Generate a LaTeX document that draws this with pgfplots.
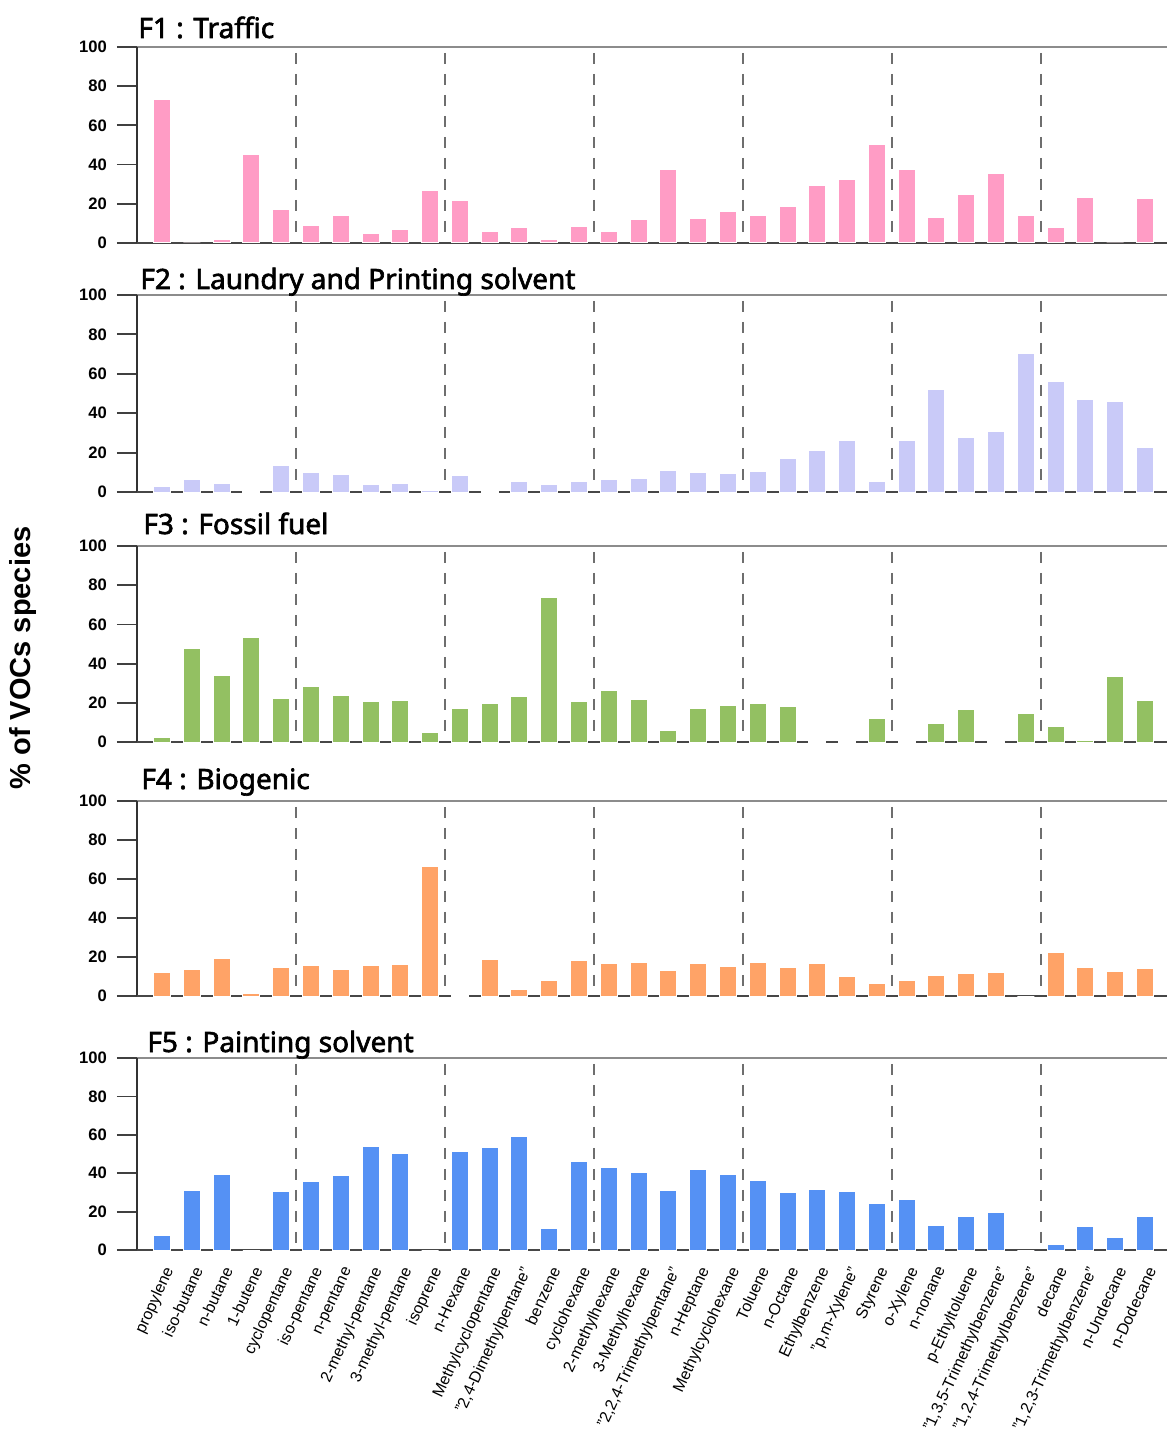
\documentclass[border=0pt]{standalone}
\usepackage{pgfplots}
\pgfplotsset{compat=1.18}
\usepackage{pgfplotstable}
\usepackage{fontspec}
\setmainfont{Liberation Sans}
\newfontfamily\titlefont{Noto Sans}[AutoFakeBold=2.2]

\definecolor{cTraffic}{HTML}{FF9CC5}
\definecolor{cLaundry}{HTML}{C9CAF8}
\definecolor{cFossil}{HTML}{93C062}
\definecolor{cBio}{HTML}{FFA367}
\definecolor{cPaint}{HTML}{5591F4}
\definecolor{sepgray}{HTML}{6E6E6E}

% Source profiles: share (%) of each VOC species attributed to factors F1-F5
\pgfplotstableread{
idx F1   F2   F3   F4   F5
0   73.4 2.7  2.1  12.0 7.7
1   0    6.6  47.9 13.4 30.8
2   1.9  4.2  34.0 19.4 39.3
3   44.9 0.3  53.2 1.4  0
4   17.3 13.6 22.2 14.8 30.3
5   8.8  9.8  28.5 15.8 35.7
6   14.1 8.8  23.6 13.4 39.0
7   4.7  3.9  20.5 15.6 53.9
8   6.8  4.2  21.2 16.1 50.3
9   26.6 0.8  5.1  66.2 0
10  21.9 8.5  17.3 0.3  51.3
11  6.1  0.5  19.8 18.7 53.6
12  8.0  5.1  23.4 3.3  59.0
13  1.9  3.6  73.7 8.2  11.0
14  8.5  5.1  20.9 18.2 45.9
15  6.1  6.1  26.4 16.8 43.1
16  11.9 7.1  21.6 17.3 40.3
17  37.3 10.8 6.1  13.2 30.8
18  12.4 9.7  17.2 16.9 42.1
19  15.9 9.5  18.4 15.0 39.5
20  14.2 10.2 19.9 17.3 36.2
21  18.6 16.9 18.2 14.5 29.9
22  29.2 21.2 0.3  16.6 31.5
23  32.4 25.9 0.3  9.9  30.3
24  50.2 5.3  11.9 6.5  24.3
25  37.6 25.9 0.3  8.2  26.4
26  13.2 52.0 9.4  10.6 12.7
27  24.9 27.6 16.7 11.6 17.7
28  35.4 30.7 0.3  12.1 19.8
29  14.2 70.2 14.3 0    0
30  8.1  56.3 7.8  22.1 3.1
31  23.4 46.9 0.9  14.7 12.3
32  0    45.8 33.6 12.8 6.3
33  22.9 22.4 21.3 14.2 17.7
}\profiles

\tikzset{
  zeroline/.style={black!72, line width=1.4pt},
  separator/.style={sepgray, line width=1pt, dash pattern=on 5.5pt off 5pt},
  paneltitle/.style={anchor=base west, inner sep=0pt, font=\titlefont\bfseries\fontsize{14}{16}\selectfont},
}

\pgfplotsset{
  vocpanel/.style={
    scale only axis,
    width=515pt,
    xmin=-0.84, xmax=33.74,
    ymin=0, ymax=100,
    ytick={0,20,40,60,80,100},
    xtick={0,...,33},
    xticklabels={},
    axis y line*=left,
    x axis line style={draw=black!45, line width=1pt},
    y axis line style={draw=black!80, line width=0.9pt},
    tick align=outside,
    major tick length=10pt,
    ytick style={draw=black!75, line width=0.9pt},
    xtick style={draw=none},
    /pgf/number format/assume math mode=true,
    yticklabel style={font=\fontsize{8.3}{9}\selectfont\bfseries, text=black, xshift=-1.5pt},
    clip=false,
  },
  vocbars/.style={ybar, bar width=8.5pt, draw=white, line width=0.5pt, fill=#1},
}

\newcommand{\panelextras}{%
  \draw[zeroline] (rel axis cs:0,0) -- (rel axis cs:1,0);
  \pgfplotsinvokeforeach{4.5,9.5,14.5,19.5,24.5,29.5}{%
    \draw[separator] (axis cs:##1,97) -- (axis cs:##1,2);}%
}

\begin{document}
\begin{tikzpicture}
\useasboundingbox (0,0) rectangle (583.5pt,-716.5pt);

% F1
\begin{axis}[vocpanel, height=98pt, at={(68.5pt,-121.5pt)}, anchor=south west]
  \panelextras
  \addplot[vocbars=cTraffic] table[x=idx, y=F1] {\profiles};
\end{axis}
\node[paneltitle] at (69pt,-19pt) {F1 : Traffic};

% F2
\begin{axis}[vocpanel, height=98.5pt, at={(68.5pt,-246pt)}, anchor=south west]
  \panelextras
  \addplot[vocbars=cLaundry] table[x=idx, y=F2] {\profiles};
\end{axis}
\node[paneltitle] at (70pt,-144.5pt) {F2 : Laundry and Printing solvent};

% F3
\begin{axis}[vocpanel, height=98pt, at={(68.5pt,-371pt)}, anchor=south west]
  \panelextras
  \addplot[vocbars=cFossil] table[x=idx, y=F3] {\profiles};
\end{axis}
\node[paneltitle] at (71.5pt,-267pt) {F3 : Fossil fuel};

% F4
\begin{axis}[vocpanel, height=97.5pt, at={(68.5pt,-498pt)}, anchor=south west]
  \panelextras
  \addplot[vocbars=cBio] table[x=idx, y=F4] {\profiles};
\end{axis}
\node[paneltitle] at (70.5pt,-394.5pt) {F4 : Biogenic};

% F5 with species names
\begin{axis}[vocpanel, height=96pt, at={(68.5pt,-625pt)}, anchor=south west,
  xticklabels={propylene,iso-butane,n-butane,1-butene,cyclopentane,iso-pentane,n-pentane,2-methyl-pentane,3-methyl-pentane,isoprene,n-Hexane,Methylcyclopentane,{"2,4-Dimethylpentane"},benzene,cyclohexane,2-methylhexane,3-Methylhexane,{"2,2,4-Trimethylpentane"},n-Heptane,Methylcyclohexane,Toluene,n-Octane,Ethylbenzene,{"p,m-Xylene"},Styrene,o-Xylene,n-nonane,p-Ethyltoluene,{"1,3,5-Trimethylbenzene"},{"1,2,4-Trimethylbenzene"},decane,{"1,2,3-Trimethylbenzene"},n-Undecane,n-Dodecane},
  xticklabel style={font=\fontsize{8}{9}\selectfont, xshift=0.5pt, yshift=2.5pt, rotate=65, anchor=north east, inner sep=0pt},
]
  \panelextras
  \addplot[vocbars=cPaint] table[x=idx, y=F5] {\profiles};
\end{axis}
\node[paneltitle] at (73.5pt,-526pt) {F5 : Painting solvent};

% shared y label
\node[rotate=90, font=\bfseries\fontsize{14.5}{16}\selectfont] at (11.5pt,-329pt) {\% of VOCs species};
\end{tikzpicture}
\end{document}
